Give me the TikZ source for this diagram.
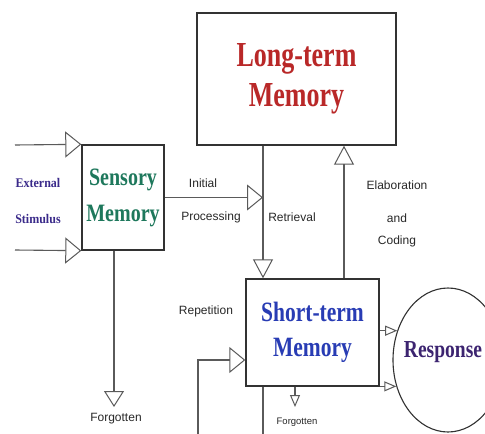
\documentclass[tikz,border=0pt]{standalone}
\usepackage{fontspec}
\setmainfont{Liberation Serif}
\newfontfamily\labfont{Liberation Sans}
\usetikzlibrary{arrows.meta,shapes.geometric}
\definecolor{ltmred}{RGB}{185,40,40}
\definecolor{stmblue}{RGB}{40,60,180}
\definecolor{senscol}{RGB}{30,120,92}
\definecolor{respcol}{RGB}{60,36,112}
\definecolor{extcol}{RGB}{58,42,138}
\definecolor{boxgray}{RGB}{50,50,50}
\definecolor{linegray}{RGB}{90,90,90}
\definecolor{labgray}{RGB}{40,40,40}
\tikzset{
  box/.style={draw=boxgray, line width=1.4pt, inner sep=0pt, align=center, fill=white},
  conn/.style={draw=linegray, line width=1.1pt},
  bigtri/.style={conn, -{Triangle[open, length=16pt, width=26pt, line width=1pt]}},
  medtri/.style={conn, -{Triangle[open, length=19pt, width=20pt, line width=1pt]}},
  smalltri/.style={conn, -{Triangle[open, length=12pt, width=10pt, line width=1pt]}},
  lab/.style={font=\labfont\fontsize{12}{14}\selectfont, text=labgray, inner sep=0pt}
}
\newcommand{\vs}[2]{\scalebox{1}[#1]{#2}}
\begin{document}
\begin{tikzpicture}[x=1pt,y=-1pt]
\useasboundingbox (0,0) rectangle (485,434);
\clip (0,0) rectangle (485,434);
\fill[white] (0,0) rectangle (485,434);

% boxes
\node[box, minimum width=199pt, minimum height=132pt, text=ltmred,
      font=\bfseries\fontsize{26}{40}\selectfont] (ltm) at (296.5,79)
      {\vs{1.35}{Long-term}\\\vs{1.35}{Memory}};
\node[box, minimum width=82pt, minimum height=105pt, text=senscol,
      font=\bfseries\fontsize{20}{36}\selectfont] (sens) at (123,197.5)
      {\vs{1.25}{Sensory}\\\vs{1.25}{Memory}};
\node[box, minimum width=133pt, minimum height=107pt, text=stmblue,
      font=\bfseries\fontsize{21.5}{35}\selectfont] (stm) at (312.5,332.5)
      {\vs{1.3}{Short-term}\\\vs{1.3}{Memory}};
\node[draw=boxgray, line width=1.1pt, ellipse, minimum width=110pt, minimum height=144pt,
      inner sep=0pt] (resp) at (448,360) {};
\node[text=respcol, font=\bfseries\fontsize{19.5}{24}\selectfont, inner sep=0pt]
      (resptxt) at (443,352) {\vs{1.25}{Response}};

% labels
\node[text=extcol, font=\bfseries\fontsize{12}{36}\selectfont, align=center, inner sep=0pt]
      (ext) at (38,201) {\vs{1.1}{External}\\\vs{1.1}{Stimulus}};
\node[lab] (init) at (203,183) {Initial};
\node[lab] (proc) at (211,217) {Processing};
\node[lab] (retr) at (292,217) {Retrieval};
\node[lab] (elab) at (397,185) {Elaboration};
\node[lab] (and) at (397,218) {and};
\node[lab] (cod) at (397,241) {Coding};
\node[lab] (rep) at (206,311) {Repetition};
\node[lab] (f1) at (116,419) {Forgotten};
\node[lab, font=\labfont\fontsize{9.5}{11}\selectfont] (f2) at (297,422) {Forgotten};

% coordinates
\coordinate (e1) at (15,145);
\coordinate (e2) at (15,250);
\coordinate (rx) at (263,0);
\coordinate (ex) at (344,0);
\coordinate (fs) at (114,407);
\coordinate (fst) at (295,407);
\coordinate (lp1) at (263,445);
\coordinate (lp2) at (198,445);
\coordinate (rp) at (198,360);

% connectors
\draw[bigtri] (e1) -- (sens.north west);
\draw[bigtri] (e2) -- (sens.south west);
\draw[bigtri] (sens.east) -- (sens.east -| rx);
\draw[medtri] (ltm.south -| rx) -- (stm.north -| rx);
\draw[medtri] (stm.north -| ex) -- (ltm.south -| ex);
\draw[conn, -{Triangle[open, length=16pt, width=20pt, line width=1pt]}] (sens.south -| fs) -- (fs);
\draw[smalltri] (stm.south -| fst) -- (fst);
\draw[smalltri] (resp.150 -| stm.east) -- (resp.150);
\draw[smalltri] (resp.207 -| stm.east) -- (resp.207);
\draw[bigtri] (stm.south -| lp1) -- (lp1) -- (lp2) -- (rp) -- (rp -| stm.west);
\end{tikzpicture}
\end{document}
